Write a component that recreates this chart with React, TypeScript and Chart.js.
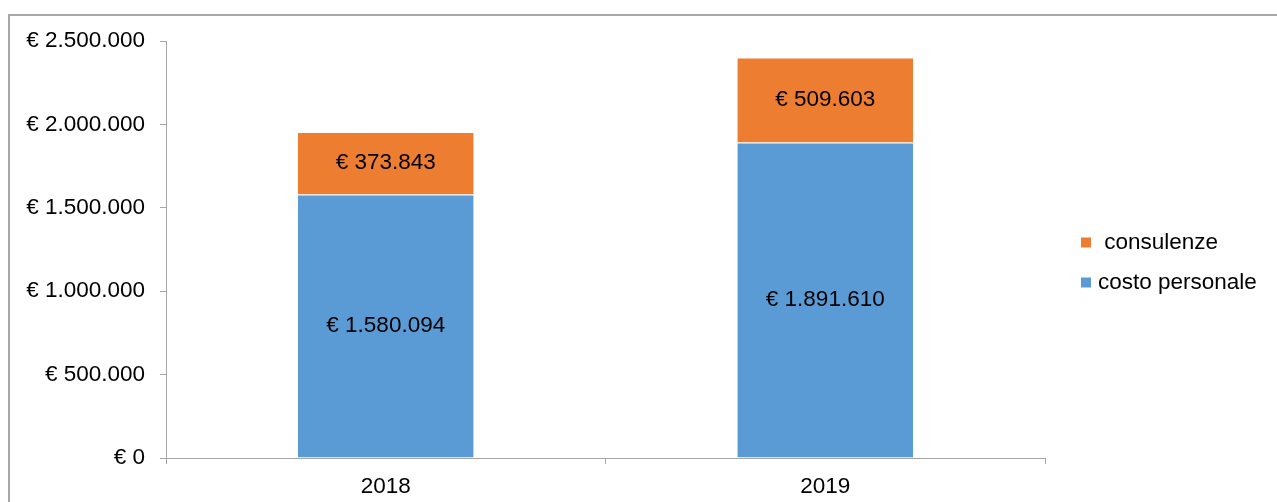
import React, { useEffect, useRef } from 'react';
import { Chart, registerables } from 'chart.js';

Chart.register(...registerables);

const categories = ['2018', '2019'];
const costoPersonale = [1580094, 1891610];
const consulenze = [373843, 509603];
const seriesNames = ['costo personale', ' consulenze'];
const yMin = 0;
const yMax = 2500000;
const yStep = 500000;

const BLUE = '#5B9BD5';
const ORANGE = '#ED7D31';
const AXIS = '#A6A6A6';
const FONT = '"Liberation Sans", Arial, sans-serif';
const FS = 22.5;

const fmt = (v: number) => '€ ' + Math.round(v).toString().replace(/\B(?=(\d{3})+(?!\d))/g, '.');

const labelPlugin = {
  id: 'segLabels',
  afterDatasetsDraw(chart: any) {
    const ctx = chart.ctx;
    ctx.save();
    ctx.font = `${FS}px ${FONT}`;
    ctx.fillStyle = '#000';
    ctx.textAlign = 'center';
    ctx.textBaseline = 'middle';
    chart.data.datasets.forEach((ds: any, di: number) => {
      const meta = chart.getDatasetMeta(di);
      meta.data.forEach((el: any, i: number) => {
        const y = (el.y + el.base) / 2;
        ctx.fillText(fmt(ds.data[i]), el.x, y);
      });
    });
    ctx.restore();
  },
};

const legendPlugin = {
  id: 'customLegend',
  afterDraw(chart: any) {
    const ctx = chart.ctx;
    const area = chart.chartArea;
    const items = chart.data.datasets.map((d: any) => ({ label: d.label, color: d.backgroundColor })).reverse();
    const mid = (area.top + area.bottom) / 2 + 13;
    const spacing = 40;
    const x0 = area.right + 36;
    ctx.save();
    ctx.font = `${FS}px ${FONT}`;
    ctx.textBaseline = 'middle';
    ctx.textAlign = 'left';
    items.forEach((it: any, i: number) => {
      const yc = mid + (i - (items.length - 1) / 2) * spacing;
      ctx.fillStyle = it.color;
      ctx.fillRect(x0, yc - 5, 10, 10);
      ctx.fillStyle = '#000';
      ctx.fillText(it.label, x0 + 17, yc);
    });
    ctx.restore();
  },
};

export default function App() {
  const ref = useRef<HTMLCanvasElement>(null);
  useEffect(() => {
    if (!ref.current) return;
    const chart = new Chart(ref.current, {
      type: 'bar',
      data: {
        labels: categories,
        datasets: [
          { label: seriesNames[0], data: costoPersonale, backgroundColor: BLUE, borderColor: 'rgba(255,255,255,0.45)', borderWidth: { top: 1 } as any, borderSkipped: false as any, barPercentage: 0.4, categoryPercentage: 1 },
          { label: seriesNames[1], data: consulenze, backgroundColor: ORANGE, borderColor: 'rgba(255,255,255,0.35)', borderWidth: { top: 1 } as any, borderSkipped: false as any, barPercentage: 0.4, categoryPercentage: 1 },
        ],
      },
      options: {
        animation: false,
        responsive: false,
        layout: { padding: { top: 41, right: 232, left: 0, bottom: 0 } },
        plugins: { legend: { display: false }, tooltip: { enabled: false } },
        scales: {
          x: {
            stacked: true,
            grid: { display: true, drawOnChartArea: false, drawTicks: true, tickLength: 6, color: AXIS, offset: true },
            border: { display: true, color: AXIS, width: 1 },
            ticks: { color: '#000', font: { family: FONT, size: FS }, padding: 9 },
            afterFit: (s: any) => { s.height = 44; },
          },
          y: {
            stacked: true,
            min: yMin,
            max: yMax,
            grid: { display: true, drawOnChartArea: false, drawTicks: true, tickLength: 6, color: AXIS },
            border: { display: true, color: AXIS, width: 1 },
            ticks: { stepSize: yStep, color: '#000', font: { family: FONT, size: FS }, padding: 15, callback: (v: any) => fmt(Number(v)) },
            afterFit: (s: any) => { s.width = 166; },
          },
        },
      },
      plugins: [labelPlugin, legendPlugin],
    });
    return () => chart.destroy();
  }, []);
  return (
    <div style={{ position: 'fixed', left: 0, top: 0, width: 1277, height: 502, overflow: 'hidden', background: '#fff' }}>
      <div style={{ position: 'absolute', left: 8, top: 14, width: 1400, height: 700, border: '2px solid #a8a8a8', boxSizing: 'border-box' }} />
      <canvas ref={ref} width={1277} height={502} style={{ position: 'absolute', left: 0, top: 0 }} />
    </div>
  );
}
